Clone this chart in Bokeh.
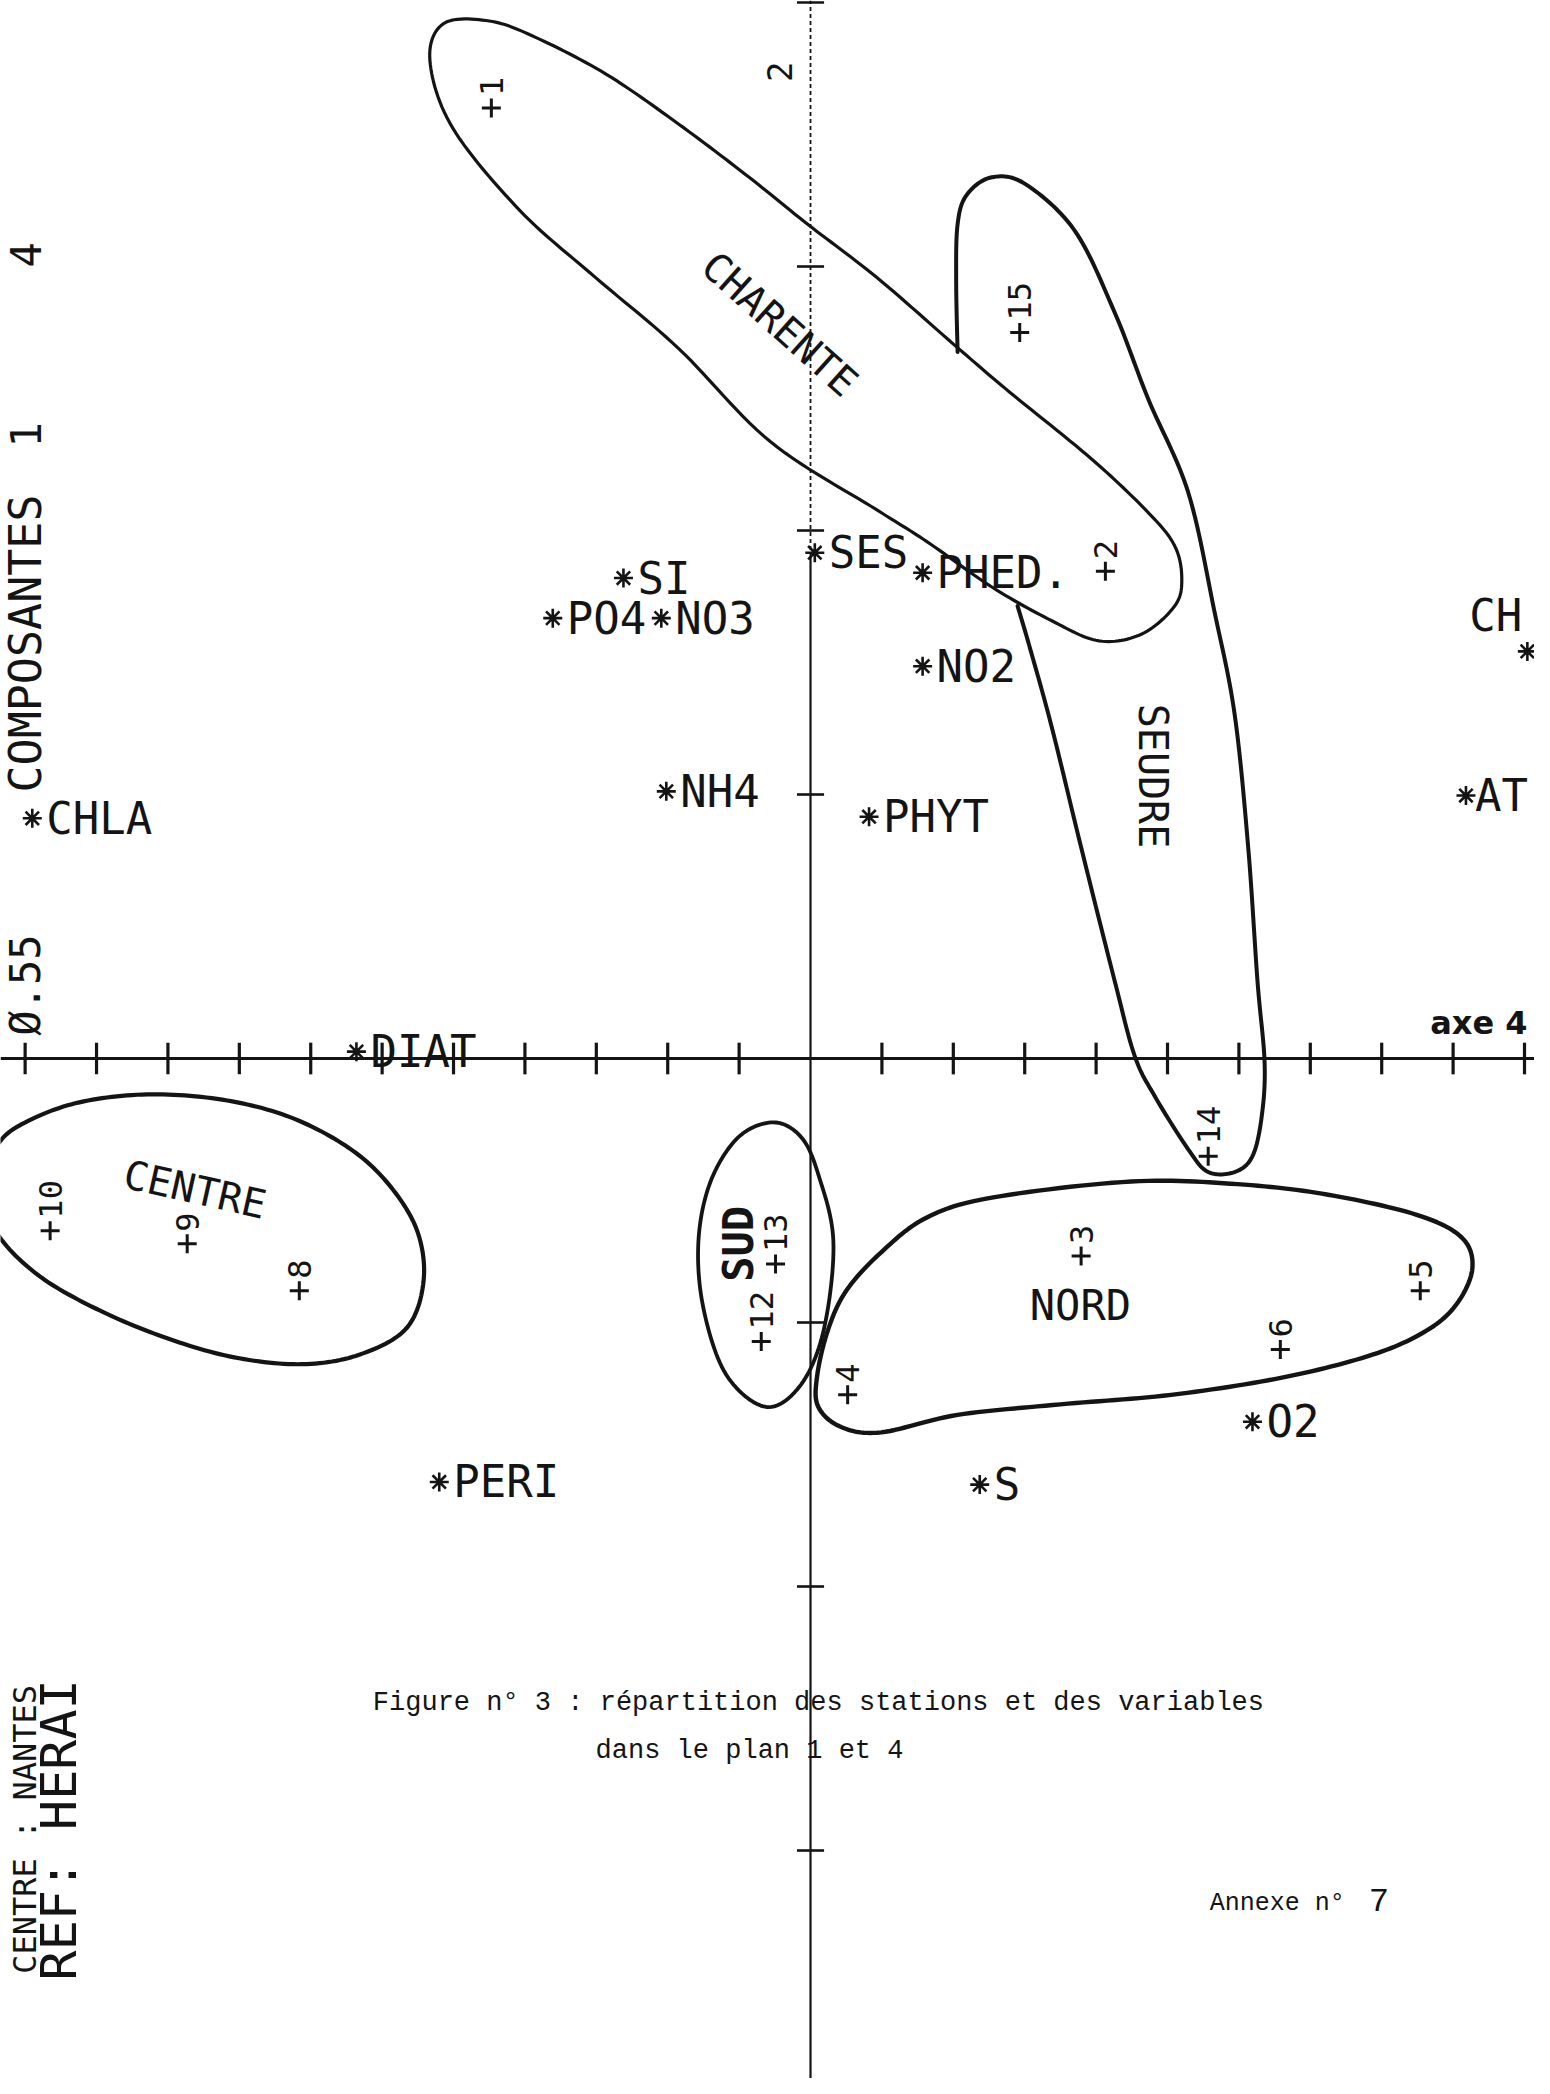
import numpy as np
from bokeh.plotting import figure
from bokeh.models import ColumnDataSource, Range1d
from bokeh.embed import file_html
from bokeh.resources import INLINE
from bokeh.core.properties import value

# ---------------- data (plan des axes 1 et 4) ----------------
x_ticks = [-1.1, -1.0, -0.9, -0.8, -0.7, -0.6, -0.5, -0.4, -0.3, -0.2, -0.1,
           0.1, 0.2, 0.3, 0.4, 0.5, 0.6, 0.7, 0.8, 0.9, 1.0]
y_ticks = [2.0, 1.5, 1.0, 0.5, -0.5, -1.0, -1.5]

var_names = ["SI", "PO4", "NO3", "SES", "PHED.", "NO2", "NH4", "PHYT", "CHLA",
             "DIAT", "PERI", "S", "O2", "AT", "CH"]
var_x = [-0.262, -0.361, -0.209, 0.006, 0.157, 0.157, -0.202, 0.082, -1.090,
         -0.636, -0.520, 0.237, 0.619, 0.918, 1.004]
var_y = [0.910, 0.834, 0.834, 0.958, 0.920, 0.743, 0.506, 0.458, 0.455,
         0.013, -0.802, -0.807, -0.688, 0.498, 0.771]

st_names = ["1", "2", "3", "4", "5", "6", "8", "9", "10", "12", "13", "14", "15"]
st_x = [-0.447, 0.413, 0.379, 0.052, 0.854, 0.658, -0.716, -0.873, -1.065,
        -0.069, -0.049, 0.557, 0.293]
st_y = [1.800, 0.923, -0.374, -0.637, -0.440, -0.551, -0.440, -0.351, -0.326,
        -0.536, -0.389, -0.185, 1.375]

groups = ["CHARENTE", "SEUDRE", "CENTRE", "SUD", "NORD"]
group_x = [-0.043, 0.480, -0.862, -0.101, 0.378]
group_y = [1.391, 0.535, -0.248, -0.351, -0.468]

# hand-drawn cluster outlines (control points, axis units)
charente_x = [-0.514, -0.450, -0.385, -0.286, -0.185, -0.086, -0.004, 0.093, 0.207,
              0.279, 0.394, 0.473, 0.510, 0.520, 0.510, 0.464, 0.404, 0.338, 0.254,
              0.163, 0.093, -0.056, -0.185, -0.301, -0.407, -0.501, -0.533]
charente_y = [1.960, 1.965, 1.934, 1.864, 1.770, 1.669, 1.580, 1.479, 1.345,
              1.262, 1.135, 1.034, 0.971, 0.908, 0.857, 0.804, 0.791, 0.829, 0.893,
              0.979, 1.039, 1.168, 1.345, 1.479, 1.606, 1.762, 1.889]
seudre_x = [0.206, 0.204, 0.206, 0.219, 0.254, 0.301, 0.370, 0.426, 0.473, 0.529,
            0.566, 0.594, 0.613, 0.626, 0.636, 0.632, 0.619, 0.594, 0.557, 0.529,
            0.482, 0.454, 0.426, 0.379, 0.338, 0.307, 0.290]
seudre_y = [1.338, 1.472, 1.580, 1.636, 1.669, 1.656, 1.568, 1.413, 1.249, 1.072,
            0.845, 0.652, 0.400, 0.147, -0.008, -0.109, -0.185, -0.215, -0.215, -0.172,
            -0.071, 0.005, 0.147, 0.400, 0.627, 0.779, 0.857]
centre_x = [-1.164, -1.138, -1.097, -1.024, -0.929, -0.824, -0.729, -0.647, -0.591,
            -0.551, -0.542, -0.566, -0.632, -0.712, -0.807, -0.905, -1.002, -1.082, -1.138]
centre_y = [-0.248, -0.162, -0.119, -0.083, -0.068, -0.078, -0.111, -0.169, -0.238,
            -0.326, -0.422, -0.511, -0.561, -0.579, -0.566, -0.528, -0.473, -0.410, -0.334]
sud_x = [-0.052, -0.013, 0.011, 0.032, 0.019, -0.013, -0.062, -0.118, -0.150, -0.157,
         -0.140, -0.101]
sud_y = [-0.121, -0.149, -0.220, -0.346, -0.511, -0.617, -0.660, -0.599, -0.473, -0.346,
         -0.233, -0.149]
nord_x = [0.449, 0.256, 0.163, 0.099, 0.050, 0.024, 0.009, 0.011, 0.043, 0.099, 0.206,
          0.350, 0.505, 0.662, 0.787, 0.862, 0.905, 0.927, 0.912, 0.849, 0.725, 0.598]
nord_y = [-0.233, -0.263, -0.301, -0.367, -0.440, -0.516, -0.604, -0.660, -0.698, -0.708,
          -0.675, -0.655, -0.637, -0.604, -0.561, -0.516, -0.465, -0.397, -0.339, -0.296,
          -0.258, -0.238]

# ---------------- styling ----------------
INK = "#141414"
MONO = value("DejaVu Sans Mono")
TYPE = value("Liberation Mono")
LABEL_OFFSETS = {"CH": (-58, -36), "AT": (9, 0)}
GROUP_ANGLES = [-0.73, -np.pi / 2, -0.22, np.pi / 2, 0.0]
GROUP_SIZES = ["40px", "40px", "40px", "42px", "42px"]
GROUP_STYLES = ["normal", "normal", "normal", "bold", "normal"]

X0, X1 = -1.1345, 1.0140
Y0, Y1 = -1.9318, 2.0038


def smooth(px, py, closed=True, n=14):
    P = np.column_stack([px, py]).astype(float)
    if closed:
        P = np.vstack([P[-1], P, P[0], P[1]])
    else:
        P = np.vstack([P[0], P, P[-1]])
    out = []
    for i in range(1, len(P) - 2):
        p0, p1, p2, p3 = P[i - 1], P[i], P[i + 1], P[i + 2]
        for t in np.linspace(0, 1, n, endpoint=False):
            t2, t3 = t * t, t * t * t
            out.append(0.5 * (2 * p1 + (-p0 + p2) * t + (2 * p0 - 5 * p1 + 4 * p2 - p3) * t2
                              + (-p0 + 3 * p1 - 3 * p2 + p3) * t3))
    out.append(P[-2])
    out = np.array(out)
    return out[:, 0], out[:, 1]


p = figure(width=1534, height=2078, x_range=Range1d(X0, X1), y_range=Range1d(Y0, Y1),
           output_backend="svg", toolbar_location=None, x_axis_type=None, y_axis_type=None,
           min_border=0)
p.outline_line_color = None
p.background_fill_color = "white"
p.border_fill_color = "white"

# axes through origin
p.segment(x0=[X0], y0=[0], x1=[X1], y1=[0], line_width=3.2, color=INK)
p.segment(x0=[0], y0=[Y0], x1=[0], y1=[0.95], line_width=2.2, color=INK)
p.segment(x0=[0], y0=[0.95], x1=[0], y1=[Y1], line_width=1.8, color=INK, line_dash="4 3")
nx, ny = len(x_ticks), len(y_ticks)
p.segment(x0=x_ticks, y0=[-0.03] * nx, x1=x_ticks, y1=[0.03] * nx, line_width=3.2, color=INK)
p.segment(x0=[-0.019] * ny, y0=y_ticks, x1=[0.019] * ny, y1=y_ticks, line_width=2.6, color=INK)

# cluster outlines
for cx, cy, closed, lw in [(charente_x, charente_y, True, 3.2), (seudre_x, seudre_y, False, 4.0),
                           (centre_x, centre_y, True, 4.2), (sud_x, sud_y, True, 3.8),
                           (nord_x, nord_y, True, 4.4)]:
    sx, sy = smooth(cx, cy, closed)
    p.line(sx, sy, line_width=lw, color=INK, line_join="round", line_cap="round")

# variables
vsrc = ColumnDataSource(dict(x=var_x, y=var_y, label=var_names,
                             dx=[LABEL_OFFSETS.get(n, (14, 0))[0] for n in var_names],
                             dy=[LABEL_OFFSETS.get(n, (14, 0))[1] for n in var_names]))
p.scatter("x", "y", source=vsrc, marker="asterisk", size=19, line_width=2.6, color=INK)
p.text("x", "y", text="label", source=vsrc, x_offset="dx", y_offset="dy", text_font=MONO,
       text_font_size="44px", text_align="left", text_baseline="middle", text_color=INK)

# stations
ssrc = ColumnDataSource(dict(x=st_x, y=st_y, label=st_names))
p.scatter("x", "y", source=ssrc, marker="cross", size=19, line_width=3, color=INK)
p.text("x", "y", text="label", source=ssrc, angle=np.pi / 2, y_offset=-12, text_font=MONO,
       text_font_size="32px", text_align="left", text_baseline="middle", text_color=INK)

# group names
gsrc = ColumnDataSource(dict(x=group_x, y=group_y, label=groups, a=GROUP_ANGLES,
                             fs=GROUP_SIZES, st=GROUP_STYLES))
p.text("x", "y", text="label", source=gsrc, angle="a", text_font=MONO, text_font_size="fs",
       text_font_style="st", text_align="center", text_baseline="middle", text_color=INK)

# axis labels and annotations
p.text(x=[0.868], y=[0.068], text=["axe 4"], text_font=value("DejaVu Sans"),
       text_font_style="bold", text_font_size="32px", text_align="left",
       text_baseline="middle", text_color=INK)
p.text(x=[-0.043], y=[1.869], text=["2"], angle=np.pi / 2, text_font=MONO,
       text_font_size="34px", text_align="center", text_baseline="middle", text_color=INK)

# left margin (rotated header)
p.text(x=[-1.099, -1.099, -1.099], y=[1.522, 1.181, 0.139],
       text=["4", "1", "Ø.55"], angle=np.pi / 2, text_font=MONO,
       text_font_size="42px", text_align="center", text_baseline="middle", text_color=INK)
p.text(x=[-1.099], y=[0.786], text=["COMPOSANTES"], angle=np.pi / 2, text_font=MONO,
       text_font_size="45px", text_align="center", text_baseline="middle", text_color=INK)
p.text(x=[-1.052], y=[-1.461], text=["REF: HERAI"], angle=np.pi / 2, text_font=MONO,
       text_font_size="50px", text_align="center", text_baseline="middle", text_color=INK)
p.text(x=[-1.100], y=[-1.46], text=["CENTRE : NANTES"], angle=np.pi / 2, text_font=MONO,
       text_font_size="32px", text_align="center", text_baseline="middle", text_color=INK)

# caption
p.text(x=[-0.613], y=[-1.221], text=["Figure n° 3 : répartition des stations et des variables"],
       text_font=TYPE, text_font_size="27px", text_align="left", text_baseline="middle",
       text_color=INK)
p.text(x=[-0.301], y=[-1.312], text=["dans le plan  1 et 4"], text_font=TYPE,
       text_font_size="27px", text_align="left", text_baseline="middle", text_color=INK)
p.text(x=[0.559], y=[-1.600], text=["Annexe n°"], text_font=TYPE, text_font_size="25px",
       text_align="left", text_baseline="middle", text_color=INK)
p.text(x=[0.782], y=[-1.594], text=["7"], text_font=TYPE, text_font_size="34px",
       text_align="left", text_baseline="middle", text_color=INK)

open("out.html", "w").write(file_html(p, INLINE))
